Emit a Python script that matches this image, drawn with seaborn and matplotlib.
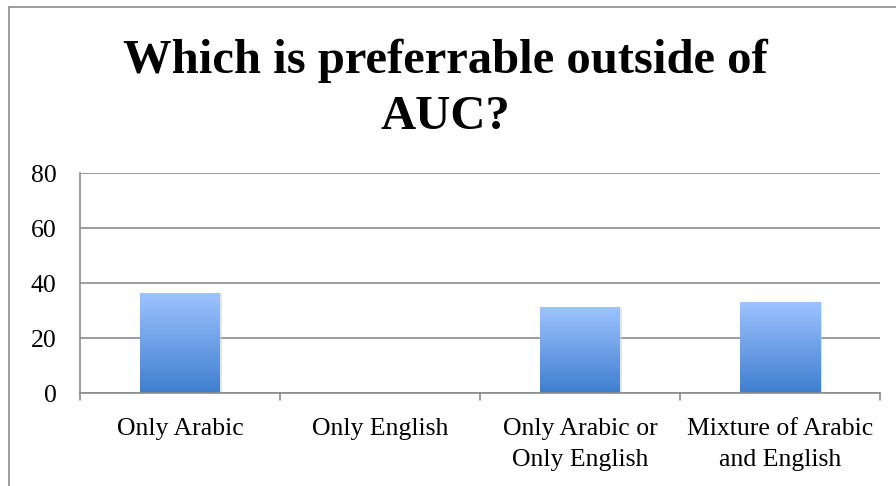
import numpy as np
import matplotlib
matplotlib.use("Agg")
import matplotlib.pyplot as plt
import seaborn as sns
from matplotlib.lines import Line2D

categories = ["Only Arabic", "Only English", "Only Arabic or\nOnly English", "Mixture of Arabic\nand English"]
values = [36, 0, 31, 33]
y_ticks = [0, 20, 40, 60, 80]

sns.set_style("white")
plt.rcParams['font.family'] = ['Liberation Serif', 'DejaVu Serif']
plt.rcParams['text.color'] = 'black'

fig = plt.figure(figsize=(8.96, 4.86), dpi=100)
ax = fig.add_axes([80 / 896, 1 - 393 / 486, 800 / 896, 220 / 486])

sns.barplot(x=categories, y=values, ax=ax, width=0.4, color="#5b8fdc")

# gradient fill for the bars, Excel-style
grad = np.linspace(0, 1, 256).reshape(-1, 1)
cmap = matplotlib.colors.LinearSegmentedColormap.from_list("bar", ["#3e7ecf", "#9dc3ff"])
for p in ax.patches:
    x0, w, h = p.get_x(), p.get_width(), p.get_height()
    if h <= 0:
        p.set_visible(False)
        continue
    # soft shadow
    ax.add_patch(plt.Rectangle((x0 + 0.01, 0), w, h, color="#cccccc", alpha=0.5, zorder=1.5,
                               linewidth=0))
    ax.imshow(grad, extent=(x0, x0 + w, 0, h), origin="lower", cmap=cmap,
              aspect="auto", zorder=2)
    p.set_visible(False)

ax.set_xlim(-0.5, len(categories) - 0.5)
ax.set_ylim(0, 80)
ax.set_yticks(y_ticks)
ax.yaxis.grid(True, color="#8c8c8c", linewidth=1.2)
ax.set_axisbelow(True)
for s in ["top", "right"]:
    ax.spines[s].set_visible(False)
ax.spines["left"].set_color("#8c8c8c")
ax.spines["bottom"].set_color("#8c8c8c")
ax.spines["left"].set_linewidth(1.2)
ax.spines["bottom"].set_linewidth(1.2)

ax.tick_params(axis="y", length=6, color="#8c8c8c", width=1.2, labelsize=18.5, pad=11,
               labelcolor="black")
ax.set_xticks(np.arange(len(categories)))
ax.set_xticklabels(categories, fontsize=18.5, linespacing=1.55, color="black")
ax.tick_params(axis="x", length=0, pad=18)
# category boundary ticks
for xb in np.arange(-0.5, len(categories), 1.0):
    ax.plot([xb, xb], [0, -2.6], color="#8c8c8c", linewidth=1.2, clip_on=False, zorder=3)
ax.set_xlabel("")
ax.set_ylabel("")

fig.text(0.497, 1 - 73 / 486, "Which is preferrable outside of", ha="center", va="baseline",
         fontsize=35, fontweight="bold", color="black")
fig.text(0.497, 1 - 129 / 486, "AUC?", ha="center", va="baseline",
         fontsize=35, fontweight="bold", color="black")

# chart area border (left and top only visible)
fig.add_artist(Line2D([9 / 896, 9 / 896], [0, 1 - 7 / 486], color="#8c8c8c", linewidth=1.2))
fig.add_artist(Line2D([9 / 896, 1], [1 - 7 / 486, 1 - 7 / 486], color="#8c8c8c", linewidth=1.2))

fig.savefig("out.png", dpi=100)
